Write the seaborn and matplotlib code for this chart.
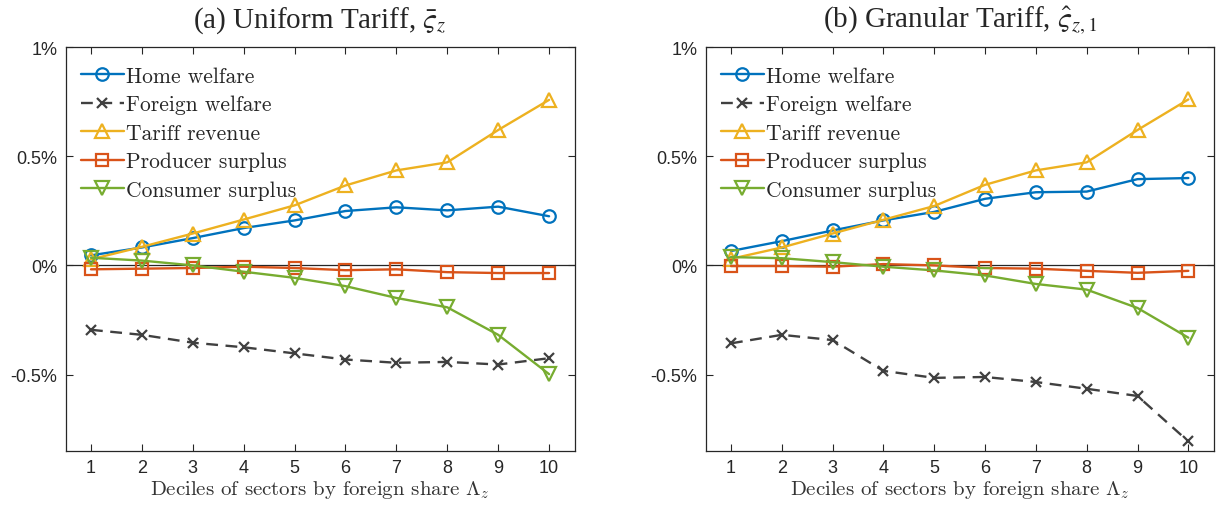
import numpy as np
import matplotlib
matplotlib.use("Agg")
import matplotlib.pyplot as plt
import seaborn as sns

# deciles of sectors by foreign share
deciles = [1, 2, 3, 4, 5, 6, 7, 8, 9, 10]

# (a) uniform tariff, values in percent
home_a = [0.046, 0.082, 0.125, 0.171, 0.206, 0.249, 0.266, 0.252, 0.269, 0.225]
foreign_a = [-0.295, -0.318, -0.354, -0.375, -0.403, -0.431, -0.446, -0.442, -0.454, -0.425]
tariff_a = [0.028, 0.085, 0.146, 0.210, 0.275, 0.366, 0.435, 0.472, 0.620, 0.758]
producer_a = [-0.018, -0.015, -0.012, -0.006, -0.012, -0.022, -0.018, -0.031, -0.035, -0.035]
consumer_a = [0.035, 0.022, 0.000, -0.029, -0.057, -0.095, -0.149, -0.192, -0.318, -0.498]

# (b) granular tariff
home_b = [0.066, 0.111, 0.160, 0.206, 0.245, 0.305, 0.335, 0.338, 0.395, 0.400]
foreign_b = [-0.357, -0.318, -0.342, -0.483, -0.515, -0.511, -0.534, -0.565, -0.598, -0.806]
tariff_b = [0.030, 0.082, 0.146, 0.209, 0.272, 0.369, 0.435, 0.472, 0.620, 0.760]
producer_b = [-0.003, -0.003, -0.006, 0.006, 0.000, -0.012, -0.015, -0.025, -0.034, -0.025]
consumer_b = [0.038, 0.033, 0.015, -0.006, -0.023, -0.046, -0.085, -0.111, -0.195, -0.331]

labels = ["Home welfare", "Foreign welfare", "Tariff revenue",
          "Producer surplus", "Consumer surplus"]
titles = [r"(a) Uniform Tariff, $\bar{\varsigma}_z$",
          r"(b) Granular Tariff, $\hat{\varsigma}_{z,1}$"]
yticks = [-0.5, 0, 0.5, 1]
yticklabels = ["-0.5%", "0%", "0.5%", "1%"]

sns.set_theme(style="ticks")
plt.rcParams["mathtext.fontset"] = "cm"
plt.rcParams["font.family"] = ["Liberation Sans", "DejaVu Sans"]

colors = ["#0072BD", "#404040", "#EDB120", "#D95319", "#77AC30"]
markers = ["o", "x", "^", "s", "v"]
msizes = [9, 6.5, 10.5, 8, 10.5]
styles = ["-", (0, (5, 3.2)), "-", "-", "-"]
serif = "cmr10"
axc = "#262626"

fig = plt.figure(figsize=(12.18, 5.06), dpi=100)
ax_a = fig.add_axes([0.0538, 0.1067, 0.4179, 0.7984])
ax_b = fig.add_axes([0.5793, 0.1067, 0.4172, 0.7984])

panels = [
    (ax_a, [home_a, foreign_a, tariff_a, producer_a, consumer_a]),
    (ax_b, [home_b, foreign_b, tariff_b, producer_b, consumer_b]),
]

for i, (ax, series) in enumerate(panels):
    ax.axhline(0, color=axc, lw=0.9, zorder=1)
    for vals, lab, c, m, ms, ls in zip(series, labels, colors, markers, msizes, styles):
        sns.lineplot(x=deciles, y=vals, ax=ax, color=c, marker=m, markersize=ms,
                     markerfacecolor="none", markeredgecolor=c, markeredgewidth=1.6,
                     linestyle=ls, linewidth=1.7, label=lab, zorder=3)
    ax.set_xlim(0.5, 10.5)
    ax.set_ylim(-0.85, 1.0)
    ax.set_xticks(deciles)
    ax.set_yticks(yticks)
    ax.set_yticklabels(yticklabels)
    ax.tick_params(direction="in", top=True, right=True, length=5, width=0.8,
                   colors=axc, labelsize=13, pad=6)
    for sp in ax.spines.values():
        sp.set_color(axc)
        sp.set_linewidth(0.9)
    ax.set_title(titles[i], fontsize=21, family="Liberation Serif",
                 math_fontfamily="stix", pad=15)
    ax.set_xlabel(r"Deciles of sectors by foreign share $\Lambda_z$",
                  fontsize=15, family=serif, color="#333333", labelpad=1)
    ax.set_ylabel("")
    leg = ax.legend(loc="upper left", frameon=False, prop={"family": serif, "size": 15.5},
                    handlelength=2.0, handletextpad=0.1, labelspacing=0.42,
                    borderaxespad=0.3, bbox_to_anchor=(0.0, 0.99))

fig.savefig("out.png", dpi=100)
